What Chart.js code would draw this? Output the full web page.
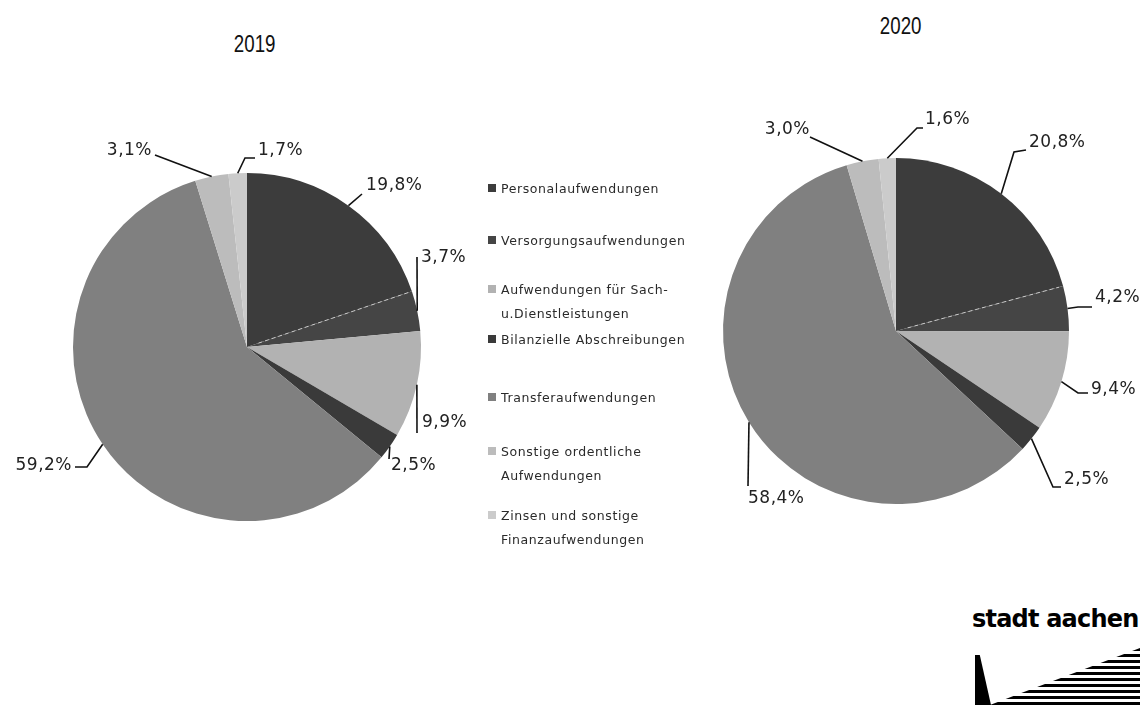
<!DOCTYPE html>
<html><head><meta charset="utf-8">
<script src="https://cdn.jsdelivr.net/npm/chart.js@4"></script>
<style>
html,body{margin:0;padding:0;background:#fff;}
body{width:1148px;height:705px;position:relative;overflow:hidden;font-family:"DejaVu Sans",sans-serif;}
#c1{position:absolute;left:0;top:100px;}
#c2{position:absolute;left:574px;top:60px;}
.title{position:absolute;font-family:"Liberation Sans Narrow","Liberation Sans",sans-serif;font-size:24px;color:#111;transform:scaleX(0.78);transform-origin:center;}
#legend{position:absolute;left:488px;top:0;width:240px;z-index:5;}
.li{position:absolute;left:0;font-size:12.5px;letter-spacing:0.6px;color:#2a2a2a;line-height:24px;white-space:nowrap;}
.li i{display:inline-block;width:8px;height:8px;margin-right:5px;vertical-align:1px;}
#logo{position:absolute;left:972px;top:605px;font-family:"DejaVu Sans",sans-serif;font-weight:bold;font-size:24px;letter-spacing:-0.8px;color:#000;}
#wedge{position:absolute;left:975px;top:655px;width:16px;height:50px;background:#000;clip-path:polygon(0 0,30% 0,100% 100%,0 100%);}
#stripes{position:absolute;left:990px;top:648px;width:150px;height:57px;background:repeating-linear-gradient(to bottom,#000 0 3px,transparent 3px 6px);clip-path:polygon(100% 0,100% 100%,0 100%);}
</style></head>
<body>
<div class="title" style="left:228px;top:30px;">2019</div>
<div class="title" style="left:874px;top:12px;">2020</div>
<canvas id="c1" width="500" height="480"></canvas>
<canvas id="c2" width="574" height="520"></canvas>
<div id="legend"></div>
<div id="logo">stadt aachen</div>
<div id="wedge"></div>
<div id="stripes"></div>
<script>
// ---- data ----
const categories = [
  "Personalaufwendungen",
  "Versorgungsaufwendungen",
  "Aufwendungen für Sach-\nu.Dienstleistungen",
  "Bilanzielle Abschreibungen",
  "Transferaufwendungen",
  "Sonstige ordentliche\nAufwendungen",
  "Zinsen und sonstige\nFinanzaufwendungen"
];
const years = ["2019", "2020"];
const values2019 = [19.8, 3.7, 9.9, 2.5, 59.2, 3.1, 1.7];
const values2020 = [20.8, 4.2, 9.4, 2.5, 58.4, 3.0, 1.6];

// ---- styles ----
const colors = ["#3c3c3c", "#454545", "#b2b2b2", "#3a3a3a", "#808080", "#bcbcbc", "#cbcbcb"];
const legendRows = [189, 241, 290, 340, 398, 452, 516];

// label placement relative to the pie centre (text point, alignment, leader bends)
const place2019 = [
  {t:[119,-161], a:"left",  bends:[[115,-153]]},
  {t:[174,-89],  a:"left",  bends:[[170,-90]]},
  {t:[175,76],   a:"left",  bends:[[170,86]]},
  {t:[144,119],  a:"left",  bends:[[142,112]]},
  {t:[-175,119], a:"right", bends:[[-160,120],[-172,120]]},
  {t:[-95,-196], a:"right", bends:[[-92,-192]]},
  {t:[11,-196],  a:"left",  bends:[[-2,-189],[8,-189]]}
];
const place2020 = [
  {t:[133,-188], a:"left",  bends:[[118,-179],[130,-181]]},
  {t:[199,-33],  a:"left",  bends:[[182,-24],[196,-24]]},
  {t:[195,59],   a:"left",  bends:[[182,62],[192,62]]},
  {t:[168,149],  a:"left",  bends:[[157,156],[165,156]]},
  {t:[-148,168], a:"left",  bends:[[-148,155]]},
  {t:[-86,-201], a:"right", bends:[[-86,-194]]},
  {t:[29,-211],  a:"left",  bends:[[21,-203],[27,-203]]}
];

function fmt(v){ return v.toFixed(1).replace('.', ',') + '%'; }

const leaderLabels = {
  id: 'leaderLabels',
  afterDatasetsDraw(chart, args, opts) {
    const ctx = chart.ctx;
    const meta = chart.getDatasetMeta(0);
    const vals = chart.data.datasets[0].data;
    ctx.save();
    // faint dashed seam between the first two slices
    const a1 = meta.data[1].getProps(['x','y','startAngle','outerRadius'], true);
    ctx.strokeStyle = 'rgba(225,225,225,0.8)';
    ctx.lineWidth = 1;
    ctx.setLineDash([4, 3]);
    ctx.beginPath();
    ctx.moveTo(a1.x + Math.cos(a1.startAngle) * 12, a1.y + Math.sin(a1.startAngle) * 12);
    ctx.lineTo(a1.x + Math.cos(a1.startAngle) * (a1.outerRadius - 4), a1.y + Math.sin(a1.startAngle) * (a1.outerRadius - 4));
    ctx.stroke();
    ctx.setLineDash([]);

    ctx.strokeStyle = '#111';
    ctx.lineWidth = 1.6;
    ctx.fillStyle = '#222';
    ctx.font = '17px "DejaVu Sans", sans-serif';
    try { ctx.letterSpacing = '0.5px'; } catch(e) {}
    ctx.textBaseline = 'middle';
    meta.data.forEach((arc, i) => {
      const p = arc.getProps(['x','y','startAngle','endAngle','outerRadius'], true);
      const mid = (p.startAngle + p.endAngle) / 2;
      const ex = p.x + Math.cos(mid) * p.outerRadius;
      const ey = p.y + Math.sin(mid) * p.outerRadius;
      const pl = opts.placements[i];
      ctx.beginPath();
      ctx.moveTo(ex, ey);
      pl.bends.forEach(b => ctx.lineTo(p.x + b[0], p.y + b[1]));
      ctx.stroke();
      ctx.textAlign = pl.a;
      ctx.fillText(fmt(vals[i]), p.x + pl.t[0], p.y + pl.t[1]);
    });
    ctx.restore();
  }
};

function makePie(id, values, pad, placements) {
  return new Chart(document.getElementById(id), {
    type: 'pie',
    data: { labels: categories, datasets: [{ data: values, backgroundColor: colors, borderWidth: 0 }] },
    options: {
      responsive: false,
      animation: false,
      layout: { padding: pad },
      plugins: {
        legend: { display: false },
        tooltip: { enabled: false },
        leaderLabels: { placements: placements }
      }
    },
    plugins: [leaderLabels]
  });
}

makePie('c1', values2019, {left:73, right:79, top:73, bottom:59}, place2019);
makePie('c2', values2020, {left:149, right:79, top:98, bottom:76}, place2020);

// legend (HTML text)
const lg = document.getElementById('legend');
categories.forEach((c, i) => {
  const lines = c.split('\n');
  const d = document.createElement('div');
  d.className = 'li';
  d.style.top = (legendRows[i] - 12) + 'px';
  d.innerHTML = '<i style="background:' + colors[i] + '"></i>' + lines[0] +
    (lines[1] ? '<br><span style="padding-left:13px">' + lines[1] + '</span>' : '');
  lg.appendChild(d);
});
</script>
</body></html>
